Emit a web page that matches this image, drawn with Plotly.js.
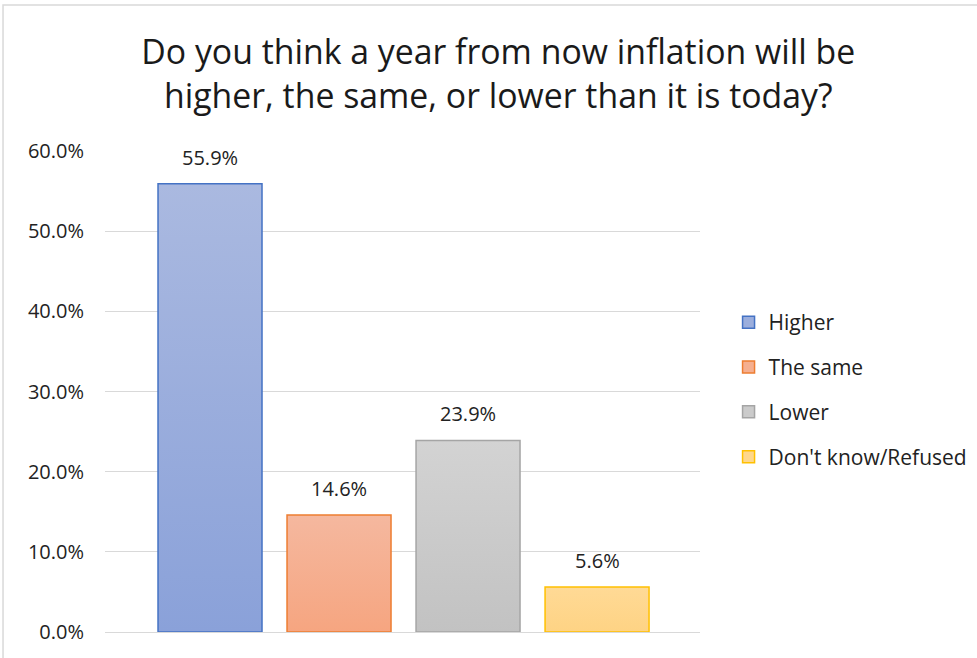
<!DOCTYPE html>
<html><head><meta charset="utf-8">
<script src="https://cdn.plot.ly/plotly-3.0.1.min.js"></script>
<style>html,body{margin:0;padding:0;background:#fff}#chart{width:977px;height:658px}</style>
</head><body><div id="chart"></div>
<script>
const categories = ["Higher", "The same", "Lower", "Don't know/Refused"];
const values = [0.559, 0.146, 0.239, 0.056];
const fillColors = ["#9BAEDD", "#F5AF90", "#CBCBCB", "#FED78C"];
const gradTop = ["#AAB9E0", "#F5B89F", "#D3D3D3", "#FFDA96"];
const gradBottom = ["#8AA1D9", "#F6A580", "#C2C2C2", "#FED384"];
const lineColors = ["#4472C4", "#ED7D31", "#A5A5A5", "#FFC000"];
const yTickVals = [0, 0.1, 0.2, 0.3, 0.4, 0.5, 0.6];

const FONT = "'Open Sans', Lato, sans-serif";
const TXT = "#222222";
const traces = categories.map((c, i) => ({
  type: "bar", name: c, x: [c], y: [values[i]],
  legendgroup: "g" + i,
  marker: {color: fillColors[i], line: {color: lineColors[i], width: 1.5}},
  hoverinfo: "none"
}));
const annotations = categories.map((c, i) => ({
  x: c, y: values[i], xref: "x", yref: "y",
  text: (values[i] * 100).toFixed(1) + "%",
  showarrow: false, yanchor: "bottom", yshift: 11,
  font: {family: FONT, size: 20, color: TXT}
}));
const layout = {
  width: 977, height: 658,
  margin: {l: 105, r: 277, t: 151, b: 26, autoexpand: false},
  paper_bgcolor: "#fff", plot_bgcolor: "#fff",
  barmode: "overlay", bargap: 0.194,
  title: {text: "Do you think a year from now inflation will be<br>higher, the same, or lower than it is today?",
    font: {family: FONT, size: 33.8, color: "#1a1a1a"}, x: 0.510, xanchor: "center", y: 0.903, yanchor: "middle", yref: "container"},
  xaxis: {type: "category", range: [-0.814, 3.798], showticklabels: false, showgrid: false, zeroline: false, showline: false, ticks: ""},
  yaxis: {range: [0, 0.6], tickvals: yTickVals, tickformat: ".1%", showgrid: true, gridcolor: "#D9D9D9", gridwidth: 1,
    zeroline: true, zerolinecolor: "#D9D9D9", zerolinewidth: 1, showline: false, ticks: "",
    ticklabelstandoff: 20, tickfont: {family: FONT, size: 20, color: TXT}},
  legend: {x: 1.048, xanchor: "left", y: 0.504, yanchor: "middle", tracegroupgap: 14.5,
    font: {family: FONT, size: 21, color: TXT}, bgcolor: "rgba(0,0,0,0)"},
  annotations: annotations,
  shapes: [{type: "rect", xref: "paper", yref: "paper", x0: -0.1714, x1: 1.6, y0: 1.3035, y1: -0.2,
    line: {color: "#D9D9D9", width: 1.5}, fillcolor: "rgba(0,0,0,0)", layer: "below"}]
};
Plotly.newPlot("chart", traces, layout, {staticPlot: true}).then(gd => {
  const svg = gd.querySelector("svg.main-svg");
  const NS = "http://www.w3.org/2000/svg";
  let defs = svg.querySelector("defs");
  if (!defs) { defs = document.createElementNS(NS, "defs"); svg.insertBefore(defs, svg.firstChild); }
  categories.forEach((c, i) => {
    const g = document.createElementNS(NS, "linearGradient");
    g.setAttribute("id", "bargrad" + i);
    g.setAttribute("x1", "0"); g.setAttribute("y1", "0"); g.setAttribute("x2", "0"); g.setAttribute("y2", "1");
    [[0, gradTop[i]], [1, gradBottom[i]]].forEach(([o, col]) => {
      const s = document.createElementNS(NS, "stop");
      s.setAttribute("offset", o); s.setAttribute("stop-color", col);
      g.appendChild(s);
    });
    defs.appendChild(g);
  });
  gd.querySelectorAll(".barlayer .trace").forEach((t, i) => {
    t.querySelectorAll("path").forEach(p => { p.style.fill = "url(#bargrad" + i + ")"; });
  });
});
</script></body></html>
